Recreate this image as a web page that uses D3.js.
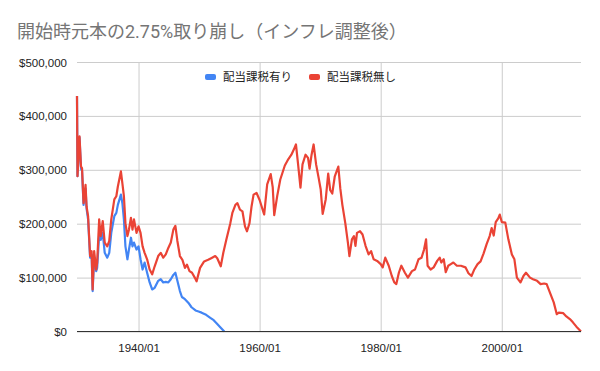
<!DOCTYPE html>
<html>
<head>
<meta charset="utf-8">
<script src="https://cdnjs.cloudflare.com/ajax/libs/d3/7.8.5/d3.min.js"></script>
<style>
	body { margin: 0; background: #fff; }
	svg { display: block; font-family: Arial, "Liberation Sans", "Noto Sans CJK JP", sans-serif; }
	.grid line { stroke: #cccccc; stroke-width: 1; }
	.grid path { display: none; }
	.axis path, .axis line { display: none; }
	.axis text { fill: #222; font-size: 11.5px; }
</style>
</head>
<body>
<svg id="chart"></svg>
<script>
'use strict';

var title = '開始時元本の2.75%取り崩し（インフレ調整後）';
var seriesNames = ['配当課税有り', '配当課税無し'];
var seriesColors = ['#4285f4', '#ea4335'];

// y ticks (dollars) and x ticks (month)
var yTicks = [0, 100000, 200000, 300000, 400000, 500000];
var xTicks = ['1940-01', '1960-01', '1980-01', '2000-01'];

// 配当課税無し: [month, value in thousands of dollars]
var noTaxSeries = [
	['1929-11', 437], ['1929-12', 288], ['1930-04', 362], ['1930-07', 306], ['1930-09', 303],
	['1930-12', 238], ['1931-04', 272], ['1931-06', 232], ['1931-09', 214], ['1932-01', 140],
	['1932-04', 149], ['1932-06', 78], ['1932-09', 149], ['1933-01', 115], ['1933-03', 128],
	['1933-07', 208], ['1933-10', 177], ['1934-02', 205], ['1934-06', 165], ['1934-11', 158],
	['1935-03', 168], ['1935-07', 208], ['1936-01', 245], ['1936-05', 251], ['1936-08', 269],
	['1937-02', 297], ['1937-05', 275], ['1937-08', 251], ['1937-11', 201], ['1938-03', 177],
	['1938-06', 189], ['1938-10', 211], ['1939-01', 189], ['1939-04', 208], ['1939-09', 183],
	['1940-01', 195], ['1940-05', 183], ['1940-09', 158], ['1941-01', 146], ['1941-06', 134],
	['1941-11', 115], ['1942-04', 106], ['1942-09', 121], ['1943-04', 140], ['1943-09', 146],
	['1944-02', 137], ['1944-07', 143], ['1944-12', 155], ['1945-05', 165], ['1945-10', 189],
	['1946-02', 196], ['1946-06', 168], ['1946-11', 140], ['1947-04', 133], ['1947-09', 118],
	['1948-01', 124], ['1948-06', 112], ['1948-11', 109], ['1949-05', 99], ['1949-08', 93],
	['1950-03', 118], ['1950-11', 130], ['1951-07', 133], ['1952-01', 136], ['1952-09', 140],
	['1953-01', 136], ['1953-08', 121], ['1954-01', 146], ['1954-07', 170], ['1955-03', 201],
	['1955-07', 220], ['1956-01', 235], ['1956-05', 238], ['1956-10', 226], ['1957-03', 223],
	['1957-08', 195], ['1957-12', 186], ['1958-05', 201], ['1958-09', 232], ['1959-01', 254],
	['1959-07', 257], ['1960-01', 244], ['1960-10', 217], ['1961-04', 273], ['1961-11', 292],
	['1962-03', 268], ['1962-06', 216], ['1962-12', 252], ['1963-06', 282], ['1964-03', 308],
	['1964-10', 320], ['1965-04', 328], ['1965-09', 338], ['1966-01', 347], ['1966-05', 313],
	['1966-10', 267], ['1967-02', 310], ['1967-08', 328], ['1968-01', 322], ['1968-04', 302],
	['1968-08', 328], ['1968-12', 347], ['1969-05', 310], ['1969-10', 285], ['1970-02', 264],
	['1970-06', 218], ['1970-12', 245], ['1971-05', 293], ['1971-09', 262], ['1972-01', 256],
	['1972-06', 288], ['1973-01', 306], ['1973-05', 265], ['1973-09', 235], ['1974-03', 200],
	['1974-08', 165], ['1974-11', 140], ['1975-04', 171], ['1975-08', 177], ['1975-11', 159],
	['1976-02', 183], ['1976-08', 186], ['1977-01', 180], ['1977-07', 159], ['1978-01', 143],
	['1978-06', 149], ['1978-11', 134], ['1979-06', 131], ['1980-01', 125], ['1980-05', 119],
	['1980-10', 137], ['1981-05', 122], ['1981-11', 103], ['1982-04', 91], ['1982-08', 88],
	['1983-01', 109], ['1983-06', 122], ['1984-01', 109], ['1984-07', 100], ['1985-03', 112],
	['1985-09', 115], ['1986-04', 134], ['1986-10', 137], ['1987-03', 152], ['1987-07', 171],
	['1987-10', 122], ['1988-04', 115], ['1988-10', 119], ['1989-05', 131], ['1989-10', 137],
	['1990-01', 128], ['1990-06', 134], ['1990-10', 110], ['1991-03', 122], ['1991-08', 125],
	['1992-01', 128], ['1992-08', 122], ['1993-04', 122], ['1994-01', 119], ['1994-07', 108],
	['1995-01', 103], ['1995-06', 114], ['1996-01', 125], ['1996-07', 130], ['1997-01', 145],
	['1997-07', 162], ['1998-01', 177], ['1998-05', 192], ['1998-09', 178], ['1999-01', 203],
	['1999-06', 210], ['1999-09', 217], ['2000-01', 203], ['2000-08', 202], ['2001-02', 171],
	['2001-09', 143], ['2002-02', 134], ['2002-07', 100], ['2003-02', 91], ['2003-08', 103],
	['2004-01', 109], ['2004-09', 100], ['2005-03', 97], ['2005-11', 94], ['2006-06', 88],
	['2007-01', 89], ['2007-06', 88], ['2007-10', 78], ['2008-03', 66], ['2008-08', 54],
	['2009-02', 32], ['2009-06', 35], ['2010-03', 34], ['2010-09', 28], ['2011-04', 23],
	['2011-10', 17], ['2012-05', 9], ['2013-02', 0]
];

// 配当課税有り: runs out of money in 1954
var taxSeries = [
	['1929-11', 437], ['1929-12', 288], ['1930-04', 360], ['1930-07', 302], ['1930-09', 298],
	['1930-12', 235], ['1931-04', 265], ['1931-06', 228], ['1931-09', 208], ['1932-01', 137],
	['1932-04', 143], ['1932-06', 75], ['1932-09', 137], ['1933-01', 112], ['1933-03', 118],
	['1933-07', 180], ['1933-10', 170], ['1934-02', 183], ['1934-06', 146], ['1934-11', 137],
	['1935-03', 146], ['1935-07', 183], ['1936-01', 214], ['1936-05', 220], ['1936-08', 235],
	['1937-02', 254], ['1937-05', 238], ['1937-08', 208], ['1937-11', 158], ['1938-03', 134],
	['1938-06', 152], ['1938-10', 174], ['1939-01', 158], ['1939-04', 165], ['1939-09', 152],
	['1940-01', 158], ['1940-05', 134], ['1940-09', 115], ['1941-01', 128], ['1941-06', 109],
	['1941-11', 91], ['1942-04', 78], ['1942-09', 81], ['1943-04', 94], ['1943-09', 97],
	['1944-02', 91], ['1944-07', 92], ['1944-12', 91], ['1945-05', 97], ['1945-10', 105],
	['1946-02', 109], ['1946-06', 94], ['1946-11', 75], ['1947-03', 64], ['1947-09', 60],
	['1948-04', 53], ['1948-10', 45], ['1949-06', 39], ['1949-12', 37], ['1950-06', 35],
	['1951-03', 31], ['1951-12', 25], ['1952-06', 21], ['1953-01', 14], ['1953-07', 8],
	['1954-03', 0]
];

var parseMonth = d3.timeParse('%Y-%m');

/**
 * Draws the whole chart into the svg.
 */
var draw = function(svg, width, height, series) {
	svg
		.attr('width', width)
		.attr('height', height);

	var left = 77, right = 581, top = 62, bottom = 331.5;

	var xScale = d3.scaleTime()
		.domain(d3.extent(noTaxSeries, function(d) { return parseMonth(d[0]); }))
		.range([left, right]);
	var yScale = d3.scaleLinear()
		.domain([0, 500000])
		.range([bottom, top]);

	// title
	svg.append('text')
		.attr('x', 17)
		.attr('y', 38)
		.attr('fill', '#757575')
		.style('font-size', '18px')
		.style('font-family', 'Roboto, "Noto Sans CJK JP", sans-serif')
		.text(title);

	// grids
	svg.append('g')
		.attr('class', 'grid')
		.attr('transform', 'translate(' + left + ',0)')
		.call(d3.axisLeft(yScale).tickValues(yTicks).tickSize(-(right - left)).tickFormat(''));
	svg.append('g')
		.attr('class', 'grid')
		.attr('transform', 'translate(0,' + bottom + ')')
		.call(d3.axisBottom(xScale).tickValues(xTicks.map(parseMonth)).tickSize(-(bottom - top)).tickFormat(''));

	// axis labels
	svg.append('g')
		.attr('class', 'axis')
		.attr('transform', 'translate(' + (left - 1) + ',0)')
		.call(d3.axisLeft(yScale).tickValues(yTicks).tickSize(6).tickFormat(function(d) {
			return '$' + d3.format(',')(d);
		}))
		.selectAll('text').attr('dy', '0.35em');
	svg.append('g')
		.attr('class', 'axis')
		.attr('transform', 'translate(0,' + (bottom + 6) + ')')
		.call(d3.axisBottom(xScale).tickValues(xTicks.map(parseMonth)).tickSize(0).tickFormat(d3.timeFormat('%Y/%m')))
		.selectAll('text').attr('dy', '1em');

	// lines
	var line = d3.line()
		.x(function(d) { return xScale(parseMonth(d[0])); })
		.y(function(d) { return yScale(d[1] * 1000); });

	svg.append('g').selectAll('path')
		.data(series)
		.enter()
		.append('path')
		.attr('fill', 'none')
		.attr('stroke', function(s) { return s.color; })
		.attr('stroke-width', 2.2)
		.attr('stroke-linejoin', 'round')
		.attr('d', function(s) { return line(s.points); });

	// zero baseline
	svg.append('line')
		.attr('x1', left).attr('x2', right)
		.attr('y1', yScale(0)).attr('y2', yScale(0))
		.attr('stroke', '#333').attr('stroke-width', 1);

	// legend
	var legendX = [205, 309];
	var legend = svg.append('g').selectAll('g')
		.data(series)
		.enter()
		.append('g')
		.attr('transform', function(s, i) { return 'translate(' + legendX[i] + ',77)'; });
	legend.append('rect')
		.attr('x', 0).attr('y', -3)
		.attr('width', 11).attr('height', 6)
		.attr('rx', 2)
		.attr('fill', function(s) { return s.color; });
	legend.append('text')
		.attr('x', 18)
		.attr('dy', '0.35em')
		.attr('fill', '#222')
		.style('font-size', '11.5px')
		.text(function(s) { return s.name; });
};

// red drawn last so it sits on top of blue
var series = [
	{ name: seriesNames[0], color: seriesColors[0], points: taxSeries },
	{ name: seriesNames[1], color: seriesColors[1], points: noTaxSeries }
];

draw(d3.select('#chart'), 600, 371, series);
</script>
</body>
</html>
